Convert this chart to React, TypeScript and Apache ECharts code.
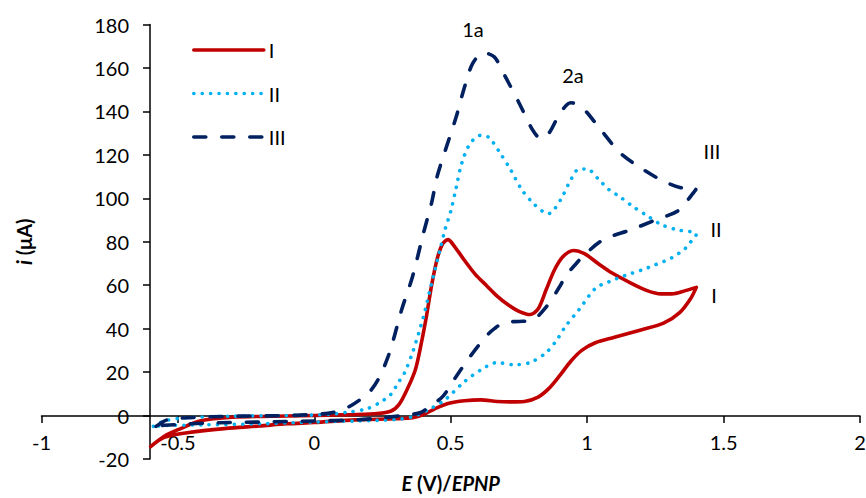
import React, { useEffect, useRef } from "react";
import * as echarts from "echarts";

const FONT = "Lato";

const seriesNames = ["I", "II", "III"];
const xTicks = { min: -1, max: 2, interval: 0.5 };
const yTicks = { min: -20, max: 180, interval: 20 };

// Curve I (red, solid): [E (V), i (µA)]
const curveI: number[][] = [
  [-0.60, -14.3], [-0.55, -9.5], [-0.49, -6.0], [-0.42, -2.5], [-0.30, -0.8], [-0.10, -0.2],
  [0.10, 0.3], [0.22, 0.8], [0.28, 2.0], [0.31, 5], [0.34, 12], [0.37, 21], [0.39, 32],
  [0.41, 45], [0.43, 60], [0.45, 72], [0.47, 79], [0.49, 81], [0.51, 78.5], [0.55, 71.5],
  [0.59, 65], [0.63, 60], [0.67, 55], [0.71, 51], [0.75, 48], [0.79, 46.5], [0.82, 49],
  [0.85, 58], [0.88, 67], [0.91, 73], [0.95, 76], [0.99, 74.5], [1.04, 70], [1.09, 65.7],
  [1.16, 61], [1.22, 57.5], [1.27, 56], [1.31, 56], [1.36, 57.5], [1.40, 59], [1.38, 54],
  [1.34, 47.5], [1.28, 42.5], [1.20, 39.5], [1.10, 36], [1.03, 33.5], [0.98, 30], [0.94, 25],
  [0.90, 18.5], [0.86, 12.5], [0.82, 8.5], [0.77, 6.5], [0.72, 6.3], [0.67, 6.5], [0.61, 7.2],
  [0.55, 6.8], [0.49, 5.5], [0.44, 3], [0.40, 0.5], [0.36, -1], [0.30, -1.5], [0.15, -2],
  [0.00, -3.2], [-0.10, -3.8], [-0.20, -4.8], [-0.33, -6], [-0.46, -7.8], [-0.55, -10],
  [-0.60, -14.3],
];

// Curve II (light blue, dotted)
const curveII: number[][] = [
  [-0.59, -5], [-0.55, -2.5], [-0.47, -1], [-0.30, -0.3], [-0.10, 0], [0.05, 0.5], [0.12, 1.5],
  [0.19, 3], [0.24, 6], [0.28, 9.7], [0.31, 15.6], [0.33, 19.5], [0.36, 29], [0.40, 45.5],
  [0.43, 61], [0.46, 76], [0.48, 86], [0.50, 94], [0.52, 105], [0.54, 116], [0.57, 125],
  [0.61, 129], [0.64, 128], [0.68, 121], [0.72, 113], [0.76, 104], [0.80, 98], [0.84, 93.7],
  [0.86, 93], [0.88, 95], [0.91, 101], [0.94, 108.5], [0.97, 113.5], [1.00, 113.5],
  [1.04, 109], [1.08, 104], [1.12, 100.7], [1.17, 96], [1.22, 92], [1.27, 88], [1.33, 85.5],
  [1.38, 84.6], [1.40, 83.5], [1.38, 80], [1.36, 77], [1.31, 72.6], [1.25, 69.4], [1.20, 67],
  [1.14, 64.5], [1.08, 61.6], [1.03, 58.5], [0.97, 48.7], [0.92, 41], [0.89, 35], [0.85, 29],
  [0.79, 24.4], [0.73, 23.4], [0.67, 24.4], [0.61, 21], [0.55, 15.6], [0.48, 7.4],
  [0.42, 2.8], [0.36, -0.5], [0.30, -1.8], [0.15, -2.5], [0.00, -3], [-0.20, -3.8],
  [-0.40, -4.3], [-0.55, -4.6], [-0.59, -5],
];

// Curve III (navy, dashed)
const curveIII: number[][] = [
  [-0.58, -5], [-0.54, -2], [-0.46, -1], [-0.30, -0.3], [-0.10, 0], [0.05, 1], [0.10, 2.5],
  [0.14, 5], [0.18, 8.5], [0.21, 12], [0.24, 18], [0.27, 27], [0.29, 35], [0.32, 48.7],
  [0.36, 64], [0.40, 84], [0.43, 98], [0.45, 110], [0.48, 122], [0.52, 137.5], [0.55, 151],
  [0.58, 162], [0.62, 167], [0.66, 165], [0.70, 156], [0.75, 144], [0.80, 131.5],
  [0.83, 127.5], [0.86, 130], [0.90, 139], [0.94, 144], [0.98, 142], [1.05, 131.5],
  [1.12, 121], [1.19, 114.5], [1.27, 108.5], [1.34, 105], [1.40, 104.5], [1.38, 101],
  [1.36, 98], [1.33, 94], [1.25, 90], [1.16, 85.5], [1.06, 81], [0.99, 74], [0.96, 70],
  [0.92, 64], [0.90, 59.5], [0.85, 50], [0.80, 44], [0.75, 43.3], [0.70, 43], [0.66, 40],
  [0.63, 36.5], [0.57, 27], [0.52, 18], [0.47, 8.7], [0.42, 4], [0.39, 1.4], [0.35, 0.5],
  [0.25, -1], [0.15, -2], [0.00, -2.5], [-0.20, -3], [-0.40, -3.5], [-0.55, -4.5], [-0.58, -5],
];

const annotations = [
  { text: "1a", x: 473, y: 29 },
  { text: "2a", x: 573, y: 75 },
  { text: "III", x: 712, y: 151 },
  { text: "II", x: 716, y: 229 },
  { text: "I", x: 714, y: 295 },
];

export default function App() {
  const ref = useRef<HTMLDivElement>(null);

  useEffect(() => {
    document.body.style.margin = "0";
    if (!ref.current) return;
    const chart = echarts.init(ref.current, null, { renderer: "svg" });
    const gridLeft = 41.5;
    const gridTop = 24.5;
    const gridBottomPx = 459;
    const yAxisPx = 150; // where the vertical axis crosses (E ≈ -0.6 V)
    const xAxisPx = 416; // where the horizontal axis crosses (i = 0)
    const txt = { fontFamily: FONT, fontSize: 20, color: "#000" };

    chart.setOption({
      animation: false,
      backgroundColor: "#fff",
      textStyle: { fontFamily: FONT },
      grid: {
        left: gridLeft,
        right: 6,
        top: gridTop,
        bottom: 498 - gridBottomPx,
        containLabel: false,
        outerBoundsMode: "none",
      },
      legend: {
        data: seriesNames,
        orient: "vertical",
        left: 187,
        top: 35,
        itemWidth: 70,
        itemHeight: 14,
        itemGap: 23.5,
        itemStyle: { opacity: 0 },
        lineStyle: { width: 3.6 },
        textStyle: { ...txt, lineHeight: 20 },
      },
      xAxis: {
        type: "value",
        position: "bottom",
        min: xTicks.min,
        max: xTicks.max,
        interval: xTicks.interval,
        offset: -(gridBottomPx - xAxisPx),
        axisLine: { onZero: false, lineStyle: { color: "#000", width: 1.5 } },
        axisTick: { show: true, length: 7, lineStyle: { color: "#000", width: 1.5 } },
        axisLabel: { ...txt, margin: 16 },
        splitLine: { show: false },
        name: "{it|E}{b| (V)/}{it|EPNP}",
        nameLocation: "middle",
        nameGap: 57,
        nameTextStyle: {
          rich: {
            it: { ...txt, fontWeight: "bold", fontStyle: "italic" },
            b: { ...txt, fontWeight: "bold" },
          },
        },
      },
      yAxis: {
        type: "value",
        position: "left",
        min: yTicks.min,
        max: yTicks.max,
        interval: yTicks.interval,
        offset: -(yAxisPx - gridLeft),
        axisLine: { show: true, onZero: false, lineStyle: { color: "#000", width: 1.5 } },
        axisTick: { show: true, length: 7, lineStyle: { color: "#000", width: 1.5 } },
        axisLabel: { ...txt, margin: 21 },
        splitLine: { show: false },
        name: "{it|i}{b| (μA)}",
        nameLocation: "middle",
        nameRotate: 90,
        nameGap: 116,
        nameTextStyle: {
          rich: {
            it: { ...txt, fontWeight: "bold", fontStyle: "italic" },
            b: { ...txt, fontWeight: "bold" },
          },
        },
      },
      series: [
        {
          name: seriesNames[0],
          type: "line",
          data: curveI,
          symbol: "none",
          smooth: 0.3,
          z: 3,
          lineStyle: { color: "#C00000", width: 3.6, cap: "round", join: "round" },
          itemStyle: { color: "#C00000" },
        },
        {
          name: seriesNames[1],
          type: "line",
          data: curveII,
          symbol: "none",
          smooth: 0.3,
          z: 4,
          lineStyle: { color: "#00B0F0", width: 3.6, type: [0.1, 8.3], cap: "round", join: "round" },
          itemStyle: { color: "#00B0F0" },
        },
        {
          name: seriesNames[2],
          type: "line",
          data: curveIII,
          symbol: "none",
          smooth: 0.3,
          z: 5,
          lineStyle: { color: "#002060", width: 3.6, type: [12, 16], cap: "round", join: "round" },
          itemStyle: { color: "#002060" },
        },
      ],
      graphic: annotations.map((a) => ({
        type: "text",
        x: a.x,
        y: a.y,
        style: {
          text: a.text,
          fontFamily: FONT,
          fontSize: 20,
          fill: "#000",
          align: "center",
          verticalAlign: "middle",
        },
      })),
    });

    return () => chart.dispose();
  }, []);

  return <div ref={ref} style={{ width: 866, height: 498 }} />;
}
